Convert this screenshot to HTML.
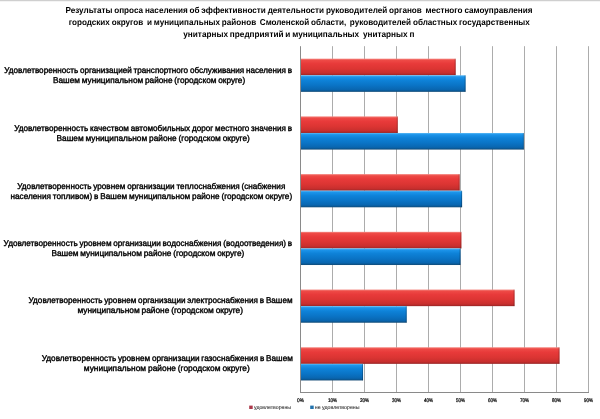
<!DOCTYPE html>
<html lang="ru">
<head>
<meta charset="utf-8">
<title>Результаты опроса населения</title>
<style>
html,body{margin:0;padding:0;background:#fff;}
body{width:600px;height:419px;overflow:hidden;}
svg{display:block;}
text{font-family:"Liberation Sans",sans-serif;fill:#000;text-rendering:geometricPrecision;}
.t{font-weight:bold;font-size:8.6px;word-spacing:-0.45px;white-space:pre;}
.c{font-size:8.3px;word-spacing:-0.45px;stroke:#000;stroke-width:0.38px;}
.a{font-size:5.3px;fill:#000;stroke:#000;stroke-width:0.22px;}
.l{font-size:5.3px;fill:#1c1c1c;stroke:#1c1c1c;stroke-width:0.06px;}
</style>
</head>
<body>
<svg width="600" height="419" viewBox="0 0 600 419">
<defs>
<linearGradient id="gr" x1="0" y1="0" x2="0" y2="1">
<stop offset="0" stop-color="#f58a84"/><stop offset="0.1" stop-color="#ee4a46"/><stop offset="0.3" stop-color="#e83a3a"/><stop offset="0.6" stop-color="#dc3533"/><stop offset="0.86" stop-color="#c92f2e"/><stop offset="0.94" stop-color="#b22a2a"/><stop offset="1" stop-color="#942424"/>
</linearGradient>
<linearGradient id="gb" x1="0" y1="0" x2="0" y2="1">
<stop offset="0" stop-color="#5cbaf6"/><stop offset="0.1" stop-color="#1c94ea"/><stop offset="0.3" stop-color="#0e82d8"/><stop offset="0.6" stop-color="#0a74c6"/><stop offset="0.86" stop-color="#0966b0"/><stop offset="0.94" stop-color="#0b5894"/><stop offset="1" stop-color="#134a74"/>
</linearGradient>
</defs>
<rect x="0" y="0" width="600" height="419" fill="#ffffff"/>
<rect x="0" y="0" width="600" height="1" fill="#cfcfcf"/>
<rect x="0" y="1" width="600" height="1" fill="#f4f4f4"/>
<line x1="300.5" y1="46.2" x2="300.5" y2="392.5" stroke="#8a8a8a" stroke-width="1"/>
<line x1="332.5" y1="46.2" x2="332.5" y2="392.5" stroke="#acacac" stroke-width="1"/>
<line x1="364.5" y1="46.2" x2="364.5" y2="392.5" stroke="#acacac" stroke-width="1"/>
<line x1="396.5" y1="46.2" x2="396.5" y2="392.5" stroke="#acacac" stroke-width="1"/>
<line x1="428.5" y1="46.2" x2="428.5" y2="392.5" stroke="#acacac" stroke-width="1"/>
<line x1="460.5" y1="46.2" x2="460.5" y2="392.5" stroke="#acacac" stroke-width="1"/>
<line x1="492.5" y1="46.2" x2="492.5" y2="392.5" stroke="#acacac" stroke-width="1"/>
<line x1="524.5" y1="46.2" x2="524.5" y2="392.5" stroke="#acacac" stroke-width="1"/>
<line x1="556.5" y1="46.2" x2="556.5" y2="392.5" stroke="#acacac" stroke-width="1"/>
<line x1="588.5" y1="46.2" x2="588.5" y2="392.5" stroke="#acacac" stroke-width="1"/>
<line x1="300.0" y1="392.5" x2="589.0" y2="392.5" stroke="#8a8a8a" stroke-width="1"/>
<rect x="301.0" y="58.66" width="154.70" height="16.60" fill="url(#gr)"/>
<rect x="454.70" y="58.66" width="1" height="16.60" fill="#000" fill-opacity="0.24"/>
<rect x="301.0" y="75.26" width="164.62" height="16.60" fill="url(#gb)"/>
<rect x="464.62" y="75.26" width="1" height="16.60" fill="#000" fill-opacity="0.24"/>
<rect x="301.0" y="116.38" width="96.78" height="16.60" fill="url(#gr)"/>
<rect x="396.78" y="116.38" width="1" height="16.60" fill="#000" fill-opacity="0.24"/>
<rect x="301.0" y="132.98" width="222.86" height="16.60" fill="url(#gb)"/>
<rect x="522.86" y="132.98" width="1" height="16.60" fill="#000" fill-opacity="0.24"/>
<rect x="301.0" y="174.10" width="158.70" height="16.60" fill="url(#gr)"/>
<rect x="458.70" y="174.10" width="1" height="16.60" fill="#000" fill-opacity="0.24"/>
<rect x="301.0" y="190.70" width="161.10" height="16.60" fill="url(#gb)"/>
<rect x="461.10" y="190.70" width="1" height="16.60" fill="#000" fill-opacity="0.24"/>
<rect x="301.0" y="231.82" width="160.40" height="16.60" fill="url(#gr)"/>
<rect x="460.40" y="231.82" width="1" height="16.60" fill="#000" fill-opacity="0.24"/>
<rect x="301.0" y="248.42" width="159.50" height="16.60" fill="url(#gb)"/>
<rect x="459.50" y="248.42" width="1" height="16.60" fill="#000" fill-opacity="0.24"/>
<rect x="301.0" y="289.54" width="213.58" height="16.60" fill="url(#gr)"/>
<rect x="513.58" y="289.54" width="1" height="16.60" fill="#000" fill-opacity="0.24"/>
<rect x="301.0" y="306.14" width="105.74" height="16.60" fill="url(#gb)"/>
<rect x="405.74" y="306.14" width="1" height="16.60" fill="#000" fill-opacity="0.24"/>
<rect x="301.0" y="347.26" width="258.54" height="16.60" fill="url(#gr)"/>
<rect x="558.54" y="347.26" width="1" height="16.60" fill="#000" fill-opacity="0.24"/>
<rect x="301.0" y="363.86" width="62.06" height="16.60" fill="url(#gb)"/>
<rect x="362.06" y="363.86" width="1" height="16.60" fill="#000" fill-opacity="0.24"/>
<text class="t" x="65.5" y="13.4" textLength="466.9" lengthAdjust="spacingAndGlyphs" xml:space="preserve">Результаты опроса населения об эффективности деятельности руководителей органов  местного самоуправления</text>
<text class="t" x="68.7" y="24.75" textLength="461.1" lengthAdjust="spacingAndGlyphs" xml:space="preserve">городских округов  и муниципальных районов  Смоленской области,  руководителей областных государственных</text>
<text class="t" x="183.3" y="36.8" textLength="231.1" lengthAdjust="spacingAndGlyphs" xml:space="preserve">унитарных предприятий и муниципальных  унитарных п</text>
<text class="c" x="4.3" y="72.9" textLength="287.7" lengthAdjust="spacingAndGlyphs">Удовлетворенность организацией транспортного обслуживания населения в</text>
<text class="c" x="53.0" y="82.9" textLength="192.2" lengthAdjust="spacingAndGlyphs">Вашем муниципальном районе (городском округе)</text>
<text class="c" x="14.2" y="130.6" textLength="277.8" lengthAdjust="spacingAndGlyphs">Удовлетворенность качеством автомобильных дорог местного значения в</text>
<text class="c" x="56.5" y="140.6" textLength="193.3" lengthAdjust="spacingAndGlyphs">Вашем муниципальном районе (городском округе)</text>
<text class="c" x="17.3" y="188.8" textLength="268.0" lengthAdjust="spacingAndGlyphs">Удовлетворенность уровнем организации теплоснабжения (снабжения</text>
<text class="c" x="10.4" y="198.8" textLength="281.8" lengthAdjust="spacingAndGlyphs">населения топливом) в Вашем муниципальном районе (городском округе)</text>
<text class="c" x="3.6" y="245.6" textLength="288.6" lengthAdjust="spacingAndGlyphs">Удовлетворенность уровнем организации водоснабжения (водоотведения) в</text>
<text class="c" x="51.4" y="255.6" textLength="192.9" lengthAdjust="spacingAndGlyphs">Вашем муниципальном районе (городском округе)</text>
<text class="c" x="28.6" y="302.7" textLength="263.9" lengthAdjust="spacingAndGlyphs">Удовлетворенность уровнем организации электроснабжения в Вашем</text>
<text class="c" x="77.5" y="312.7" textLength="165.5" lengthAdjust="spacingAndGlyphs">муниципальном районе (городском округе)</text>
<text class="c" x="41.8" y="360.9" textLength="251.0" lengthAdjust="spacingAndGlyphs">Удовлетворенность уровнем организации газоснабжения в Вашем</text>
<text class="c" x="83.8" y="370.9" textLength="166.0" lengthAdjust="spacingAndGlyphs">муниципальном районе (городском округе)</text>
<text class="a" x="297.05" y="401.8" textLength="6.9" lengthAdjust="spacingAndGlyphs">0%</text>
<text class="a" x="327.90" y="401.8" textLength="9.2" lengthAdjust="spacingAndGlyphs">10%</text>
<text class="a" x="359.90" y="401.8" textLength="9.2" lengthAdjust="spacingAndGlyphs">20%</text>
<text class="a" x="391.90" y="401.8" textLength="9.2" lengthAdjust="spacingAndGlyphs">30%</text>
<text class="a" x="423.90" y="401.8" textLength="9.2" lengthAdjust="spacingAndGlyphs">40%</text>
<text class="a" x="455.90" y="401.8" textLength="9.2" lengthAdjust="spacingAndGlyphs">50%</text>
<text class="a" x="487.90" y="401.8" textLength="9.2" lengthAdjust="spacingAndGlyphs">60%</text>
<text class="a" x="519.90" y="401.8" textLength="9.2" lengthAdjust="spacingAndGlyphs">70%</text>
<text class="a" x="551.90" y="401.8" textLength="9.2" lengthAdjust="spacingAndGlyphs">80%</text>
<text class="a" x="583.90" y="401.8" textLength="9.2" lengthAdjust="spacingAndGlyphs">90%</text>
<rect x="249.2" y="405.6" width="3.5" height="3.4" fill="#ac384a"/>
<text class="l" x="254" y="408.5" textLength="37" lengthAdjust="spacingAndGlyphs">удовлетворены</text>
<rect x="310.2" y="405.6" width="3.5" height="3.4" fill="#2272ac"/>
<text class="l" x="314.8" y="408.5" textLength="44.7" lengthAdjust="spacingAndGlyphs">не удовлетворены</text>
</svg>
</body>
</html>
